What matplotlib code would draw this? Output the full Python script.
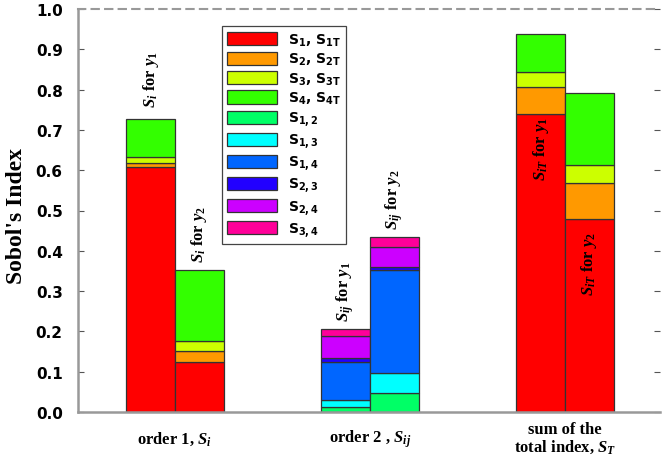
import numpy as np
import matplotlib
matplotlib.use("Agg")
import matplotlib.pyplot as plt
from matplotlib.patches import Patch
from matplotlib.font_manager import FontProperties

# math text for the serif labels: bold Times-like
plt.rcParams['mathtext.fontset'] = 'custom'
plt.rcParams['mathtext.it'] = 'Liberation Serif:italic:bold'
plt.rcParams['mathtext.rm'] = 'Liberation Serif:bold'
plt.rcParams['mathtext.bf'] = 'Liberation Serif:bold'

# Sobol indices
groups = ['order 1, $S_i$', 'order 2 , $S_{ij}$', 'sum of the\ntotal index, $S_T$']
first_labels = ['S1', 'S2', 'S3', 'S4']
second_labels = ['S12', 'S13', 'S14', 'S23', 'S24', 'S34']
first_y1 = [0.607, 0.010, 0.015, 0.095]
first_y2 = [0.123, 0.028, 0.024, 0.177]
second_y1 = [0.012, 0.018, 0.095, 0.008, 0.055, 0.018]
second_y2 = [0.048, 0.048, 0.256, 0.007, 0.051, 0.025]
total_y1 = [0.739, 0.068, 0.036, 0.095]
total_y2 = [0.479, 0.088, 0.047, 0.177]

legend_labels = [r'$\mathbf{S_1,\, S_{1T}}$', r'$\mathbf{S_2,\, S_{2T}}$',
                 r'$\mathbf{S_3,\, S_{3T}}$', r'$\mathbf{S_4,\, S_{4T}}$',
                 r'$\mathbf{S_{1,2}}$', r'$\mathbf{S_{1,3}}$', r'$\mathbf{S_{1,4}}$',
                 r'$\mathbf{S_{2,3}}$', r'$\mathbf{S_{2,4}}$', r'$\mathbf{S_{3,4}}$']
first_colors = ['#ff0000', '#ff9900', '#ccff00', '#33ff00']
second_colors = ['#00ff66', '#00ffff', '#0066ff', '#2200ff', '#cc00ff', '#ff0099']

fig = plt.figure(figsize=(6.62, 4.56), dpi=100)
ax = fig.add_axes([78 / 662, 1 - 413 / 456, 582 / 662, 403 / 456])

w = 0.25
edge = '#333333'


def stack(x, vals, colors):
    bottom = 0.0
    for v, c in zip(vals, colors):
        ax.bar(x, v, width=w, bottom=bottom, color=c, edgecolor=edge, linewidth=0.9)
        bottom += v
    return bottom


top11 = stack(-w / 2, first_y1, first_colors)
top12 = stack(w / 2, first_y2, first_colors)
top21 = stack(1 - w / 2, second_y1, second_colors)
top22 = stack(1 + w / 2, second_y2, second_colors)
top31 = stack(2 - w / 2, total_y1, first_colors)
top32 = stack(2 + w / 2, total_y2, first_colors)

# rotated annotations
ann = dict(rotation=90, ha='center', fontsize=12, family='Liberation Serif',
           weight='bold', math_fontfamily='custom')
ax.text(-w / 2, top11 + 0.03, r'$S_i$ for $y_1$', va='bottom', **ann)
ax.text(w / 2, top12 + 0.02, r'$S_i$ for $y_2$', va='bottom', **ann)
ax.text(1 - w / 2, top21 + 0.02, r'$S_{ij}$ for $y_1$', va='bottom', **ann)
ax.text(1 + w / 2, top22 + 0.02, r'$S_{ij}$ for $y_2$', va='bottom', **ann)
ax.text(2 - w / 2, total_y1[0] - 0.005, r'$S_{iT}$ for $y_1$', va='top', **ann)
ax.text(2 + w / 2, total_y2[0] - 0.03, r'$S_{iT}$ for $y_2$', va='top', **ann)

ax.set_xlim(-0.497, 2.487)
ax.set_ylim(0, 1.0)
ax.set_yticks(np.arange(0, 1.01, 0.1))
ax.set_yticklabels([f'{v:.1f}' for v in np.arange(0, 1.01, 0.1)],
                   fontsize=11, fontweight='bold', family='DejaVu Sans')
ax.tick_params(axis='y', direction='in', length=4, color='#555555', pad=11,
               left=True, right=True)
ax.set_xticks([0, 1, 2])
ax.set_xticklabels(groups, fontsize=12, family='Liberation Serif', weight='bold',
                   linespacing=1.0)
for t in ax.get_xticklabels():
    t.set_va('center')
    t.set_math_fontfamily('custom')
ax.tick_params(axis='x', length=0, pad=19)

ax.set_ylabel("Sobol's Index", fontsize=17, family='Liberation Serif', weight='bold')
ax.yaxis.set_label_coords(-0.088, 0.49)

for s in ['left', 'bottom']:
    ax.spines[s].set_color('#999999')
    ax.spines[s].set_linewidth(1.8)
ax.spines['right'].set_visible(False)
ax.spines['top'].set_color('#999999')
ax.spines['top'].set_linewidth(1.5)
ax.spines['top'].set_linestyle((0, (3.5, 3)))

handles = [Patch(facecolor=c, edgecolor=edge, linewidth=0.9)
           for c in first_colors + second_colors]
leg = ax.legend(handles, legend_labels, loc='upper left',
                bbox_to_anchor=(0.247, 0.958), borderaxespad=0,
                prop=FontProperties(family='DejaVu Sans', weight='bold', size=10,
                                    math_fontfamily='dejavusans'),
                fancybox=False, framealpha=1, edgecolor='#444444',
                handlelength=3.6, handleheight=1.1, labelspacing=0.22,
                handletextpad=0.75, borderpad=0.4)
leg.get_frame().set_linewidth(0.9)

fig.savefig('out.png', dpi=100)
